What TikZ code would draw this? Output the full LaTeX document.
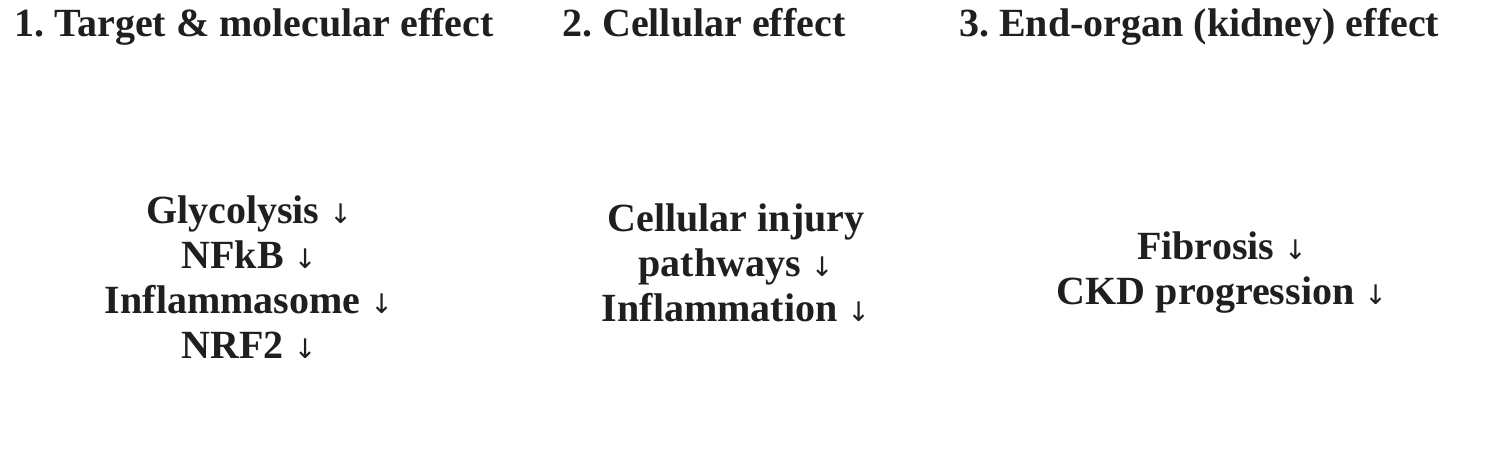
\documentclass[tikz,border=0pt]{standalone}
\usepackage{fontspec}
\setmainfont{Liberation Serif}
\newfontfamily\arrowfont{DejaVu Sans}
\newcommand{\dn}{\ {\mdseries\arrowfont\fontsize{27}{27}\selectfont ↓}}
\frenchspacing
\begin{document}
\begin{tikzpicture}[x=1pt,y=-1pt,
  every node/.style={inner sep=0pt,text=black!88},
  head/.style={anchor=base west,font=\bfseries\fontsize{40}{45}\selectfont},
  body/.style={align=center,font=\bfseries\fontsize{40}{45}\selectfont}]
\useasboundingbox (0,0) rectangle (1499,455);
\node[head] (h1) at (14,36) {1. Target \& molecular effect};
\node[head] (h2) at (562,36) {2. Cellular effect};
\node[head] (h3) at (959,36) {3. End-organ (kidney) effect};
\node[body] (c1) at (249,277) {Glycolysis\dn\\NFkB\dn\\Inflammasome\dn\\NRF2\dn};
\node[body] (c2) at (736,263) {Cellular injury\\pathways\dn\\Inflammation\dn};
\node[body] (c3) at (1222,273) {Fibrosis\dn\\CKD progression\dn};
\end{tikzpicture}
\end{document}
